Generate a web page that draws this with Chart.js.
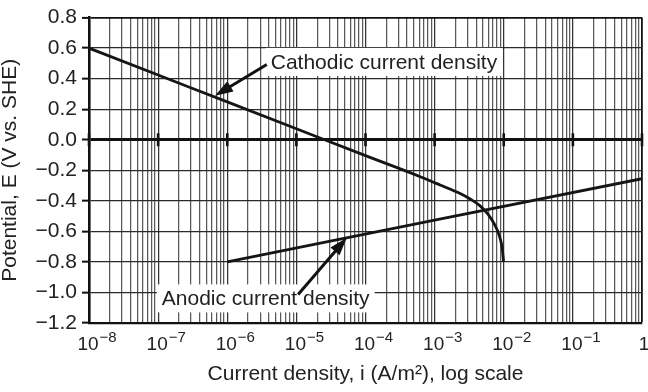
<!DOCTYPE html>
<html><head><meta charset="utf-8">
<script src="https://cdn.jsdelivr.net/npm/chart.js@4.4.1/dist/chart.umd.min.js"></script>
<style>html,body{margin:0;padding:0;background:#fff}#wrap{width:648px;height:392px;position:relative}</style>
</head><body><div id="wrap"><canvas id="c"></canvas></div>
<script>
// ---- data ----
const cathodicI = [1e-8, 1e-7, 1e-6, 1e-5, 1e-4, 6.2e-4, 1.2e-3, 2.34e-3, 3.27e-3, 4.55e-3, 5.94e-3, 7.26e-3, 8.57e-3, 9.48e-3, 9.9e-3, 9.95e-3];
const cathodicE = [0.6, 0.424, 0.248, 0.072, -0.104, -0.242, -0.296, -0.352, -0.388, -0.433, -0.488, -0.55, -0.624, -0.708, -0.79, -0.80];
const anodicI = [1e-6, 1e-3, 1];
const anodicE = [-0.8, -0.527, -0.255];
const xDecadeExponents = [-8, -7, -6, -5, -4, -3, -2, -1, 0];
const xMinorMultipliers = [2, 3, 4, 5, 6, 7, 8, 9];
const yTickValues = [-1.2, -1.0, -0.8, -0.6, -0.4, -0.2, 0, 0.2, 0.4, 0.6, 0.8];
const yTitle = 'Potential, E (V vs. SHE)';
const xTitle = 'Current density, i (A/m²), log scale';
const labelCathodic = 'Cathodic current density';
const labelAnodic = 'Anodic current density';
const cathodicLabelAt = [4.26e-6, 0.51];
const cathodicArrowFrom = [3.73e-6, 0.4925];
const cathodicArrowTo = [6.65e-7, 0.288];
const anodicLabelAt = [1.13e-7, -1.039];
const anodicArrowFrom = [1.06e-5, -1.013];
const anodicArrowTo = [5.36e-5, -0.642];

const FONT = '"Liberation Sans", Arial, Helvetica, sans-serif';
const TXT = '#222';

const gridValues = [];
xDecadeExponents.forEach(e => {
  gridValues.push(Math.pow(10, e));
  if (e < 0) xMinorMultipliers.forEach(m => gridValues.push(m * Math.pow(10, e)));
});
const isDecade = v => Math.abs(Math.log10(v) - Math.round(Math.log10(v))) < 1e-9;

function toPx(chart, p) {
  return [chart.scales.x.getPixelForValue(p[0]), chart.scales.y.getPixelForValue(p[1])];
}
function arrow(ctx, from, to) {
  const dx = to[0] - from[0], dy = to[1] - from[1];
  const len = Math.hypot(dx, dy), ux = dx / len, uy = dy / len;
  const hl = 18, hw = 6;
  const bx = to[0] - ux * hl, by = to[1] - uy * hl;
  ctx.beginPath(); ctx.moveTo(from[0], from[1]); ctx.lineTo(bx + ux * 2, by + uy * 2);
  ctx.lineWidth = 3; ctx.strokeStyle = '#111'; ctx.stroke();
  ctx.beginPath(); ctx.moveTo(to[0], to[1]);
  ctx.lineTo(bx - uy * hw, by + ux * hw); ctx.lineTo(bx + uy * hw, by - ux * hw); ctx.closePath();
  ctx.fillStyle = '#111'; ctx.fill();
}

const decor = {
  id: 'decor',
  beforeDatasetsDraw(chart) {
    const ctx = chart.ctx, x = chart.scales.x, y = chart.scales.y;
    ctx.save();
    const y0 = y.getPixelForValue(0);
    ctx.fillStyle = '#111';
    xDecadeExponents.forEach(e => {
      const xp = x.getPixelForValue(Math.pow(10, e));
      ctx.fillRect(xp - 1.3, y0 - 6.5, 2.6, 13);
    });
    ctx.font = '21px ' + FONT;
    [[labelCathodic, cathodicLabelAt], [labelAnodic, anodicLabelAt]].forEach(([t, p]) => {
      const [lx, ly] = toPx(chart, p);
      const w = ctx.measureText(t).width;
      ctx.fillStyle = '#fff'; ctx.fillRect(lx - 5, ly - 14, w + 10, 28);
      ctx.fillStyle = TXT; ctx.textBaseline = 'middle'; ctx.textAlign = 'left';
      ctx.fillText(t, lx, ly + 1);
    });
    ctx.restore();
  },
  afterDatasetsDraw(chart) {
    const ctx = chart.ctx;
    ctx.save();
    arrow(ctx, toPx(chart, cathodicArrowFrom), toPx(chart, cathodicArrowTo));
    arrow(ctx, toPx(chart, anodicArrowFrom), toPx(chart, anodicArrowTo));
    ctx.restore();
  },
  afterDraw(chart) {
    const ctx = chart.ctx, x = chart.scales.x, base = chart.chartArea.bottom + 27;
    ctx.save();
    ctx.fillStyle = TXT; ctx.textBaseline = 'alphabetic';
    xDecadeExponents.forEach(e => {
      const xp = x.getPixelForValue(Math.pow(10, e));
      if (e === 0) {
        ctx.font = '19px ' + FONT; ctx.textAlign = 'center'; ctx.fillText('1', xp + 2, base);
        return;
      }
      ctx.font = '19px ' + FONT; ctx.textAlign = 'center';
      const w = ctx.measureText('10').width;
      ctx.fillText('10', xp - 1, base);
      ctx.font = '15px ' + FONT; ctx.textAlign = 'left';
      ctx.fillText('\u2212' + Math.abs(e), xp - 1 + w / 2 + 1, base - 8.5);
    });
    ctx.restore();
  }
};

new Chart(document.getElementById('c'), {
  type: 'line',
  data: {
    datasets: [
      { label: 'Cathodic current density', data: cathodicI.map((v, i) => ({ x: v, y: cathodicE[i] })),
        borderColor: '#151515', borderWidth: 2.8, pointRadius: 0, cubicInterpolationMode: 'monotone', fill: false },
      { label: 'Anodic current density', data: anodicI.map((v, i) => ({ x: v, y: anodicE[i] })),
        borderColor: '#151515', borderWidth: 2.8, pointRadius: 0, tension: 0, fill: false }
    ]
  },
  options: {
    responsive: true, maintainAspectRatio: false, animation: false,
    layout: { padding: { top: 14, right: 6, bottom: 0, left: 0 } },
    plugins: { legend: { display: false }, tooltip: { enabled: false } },
    scales: {
      x: {
        type: 'logarithmic', min: 1e-8, max: 1,
        afterBuildTicks: s => { s.ticks = gridValues.map(v => ({ value: v })); },
        afterFit: s => { s.height = 69; },
        ticks: { display: false },
        grid: {
          drawTicks: false,
          color: c => (c.tick && c.tick.value === 1) ? '#111' : (c.tick && isDecade(c.tick.value) ? '#333' : '#5a5a5a'),
          lineWidth: c => (c.tick && c.tick.value === 1) ? 1.8 : 1.25
        },
        border: { display: true, color: '#111', width: 2.3 },
        title: { display: true, text: xTitle, color: TXT, font: { family: FONT, size: 21 }, padding: { top: 0, bottom: 5 } }
      },
      y: {
        min: -1.2, max: 0.8,
        afterBuildTicks: s => { s.ticks = yTickValues.map(v => ({ value: v })); },
        afterFit: s => { s.width = 89; },
        ticks: {
          color: TXT, font: { family: FONT, size: 21 }, padding: 5,
          callback: v => { const r = Math.round(v * 10) / 10; return (r < 0 ? '\u2212' : '') + Math.abs(r).toFixed(1); }
        },
        grid: {
          drawTicks: true, tickLength: 7, tickWidth: 2, tickColor: '#111',
          color: c => (c.tick && (Math.abs(c.tick.value) < 1e-9 || c.tick.value === 0.8)) ? '#111' : '#2a2a2a',
          lineWidth: c => (c.tick && Math.abs(c.tick.value) < 1e-9) ? 3 : (c.tick && c.tick.value === 0.8 ? 1.8 : 1.3)
        },
        border: { display: true, color: '#111', width: 2.6 },
        title: { display: true, text: yTitle, color: TXT, font: { family: FONT, size: 21, lineHeight: 1 }, padding: { top: 0, bottom: 0 } }
      }
    }
  },
  plugins: [decor]
});
</script>
</body></html>
